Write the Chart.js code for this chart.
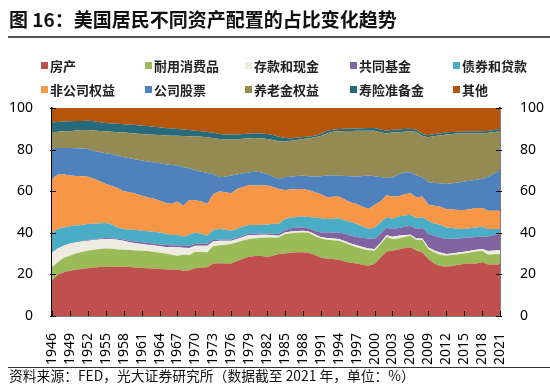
<!DOCTYPE html>
<html>
<head>
<meta charset="utf-8">
<script src="https://cdn.jsdelivr.net/npm/chart.js@4.4.1/dist/chart.umd.min.js"></script>
<style>
  html, body { margin: 0; padding: 0; background: #fff; }
  body { width: 550px; height: 384px; position: relative; overflow: hidden;
         font-family: "Noto Sans CJK SC", "Noto Sans", sans-serif; }
  #title { position: absolute; left: 9px; top: 6px; font-size: 19px; line-height: 26px; font-weight: bold; color: #111; white-space: nowrap; }
  #titleRule { position: absolute; left: 8px; right: 0; top: 36px; height: 2px; background: #555; }
  #legend { position: absolute; left: 41px; top: 53px; display: grid;
            grid-template-columns: 104px 100px 105px 103px 96px; font-size: 13px; font-weight: bold; color: #222; }
  .item { display: flex; align-items: center; height: 24px; white-space: nowrap; }
  .box { width: 7px; height: 7px; margin-right: 2px; flex: none; }
  #wrap { position: absolute; left: 0; top: 0; width: 550px; height: 384px; }
  #srcRule { position: absolute; left: 8px; right: 0; top: 367px; height: 1px; background: #333; }
  #source { position: absolute; left: 9px; top: 368px; font-size: 13.8px; line-height: 15px; color: #111; white-space: nowrap; }
</style>
</head>
<body>
<div id="wrap"><canvas id="chart" width="550" height="384"></canvas></div>
<div id="title">图 16：美国居民不同资产配置的占比变化趋势</div>
<div id="titleRule"></div>
<div id="legend"></div>
<div id="srcRule"></div>
<div id="source">资料来源：FED，光大证券研究所（数据截至 2021 年，单位：%）</div>
<script>
// years on the x axis, label every 3rd one
const years = [1946,1947,1948,1949,1950,1951,1952,1953,1954,1955,
  1956,1957,1958,1959,1960,1961,1962,1963,1964,1965,
  1966,1967,1968,1969,1970,1971,1972,1973,1974,1975,
  1976,1977,1978,1979,1980,1981,1982,1983,1984,1985,
  1986,1987,1988,1989,1990,1991,1992,1993,1994,1995,
  1996,1997,1998,1999,2000,2001,2002,2003,2004,2005,
  2006,2007,2008,2009,2010,2011,2012,2013,2014,2015,
  2016,2017,2018,2019,2020,2021];

const yTicks = [0, 20, 40, 60, 80, 100];

// shares in %
const house = [17,20,21,21.8,22.2,22.6,23,23.3,23.5,23.6,
  23.6,23.7,23.7,23.5,23.3,23.1,23,22.8,22.6,22.5,
  22.2,22.3,21.8,22,23,23.2,23.4,25.3,25.4,25.3,
  25.3,26.5,27.5,28.5,28.8,29,28.2,29,29.8,30.1,
  30.4,30.6,30.6,30.3,29.5,28,27.6,27.4,27,26.2,
  25.6,25.2,24.6,24.2,25,28,31,31.4,32,32.6,
  33,31.5,30.5,27.4,25.2,24,23.7,24,24.6,25,
  25.2,25.3,25.8,24.7,24.7,24.7];
const durables = [6.4,6,7,7.2,7.8,8.2,8.4,8.5,8.7,8.9,
  8.7,8.3,8.2,8.2,8.2,8.3,8.2,8.1,7.8,7.5,
  7.3,6.7,7.8,7.3,7.9,7.6,7.2,8.2,8.6,9,
  9.3,9,8.8,8.5,8.5,8.6,9.6,8.8,8,9.3,
  9.4,9.4,9.6,9.7,9,9.2,9,9,9.2,9,
  8.4,7.8,7.6,7.4,6.4,6.5,7,5.6,5.3,5.4,
  5.6,5,6,4.8,5.3,5.5,5.3,5.3,5.1,5.1,
  5.3,5.7,5.6,4.8,5,5.1];
const deposits = [7.1,6.5,5.8,5.8,5.3,5,4.8,4.7,4.6,4.5,
  4.6,4.6,4.3,3.8,3.5,3.2,3.1,3.1,3.1,3.2,
  3.5,4,3.2,3.4,2.9,3,3.2,2.3,2.2,1.9,
  1.6,1.5,1.7,1.9,1.7,1.5,1.3,1,0.8,0.8,
  0.8,0.9,0.8,0.6,0.8,0.8,0.9,0.8,0.8,0.8,
  0.8,1,1,0.9,0.8,0.7,0.8,1.1,1.3,0.9,
  0.5,0.8,0.8,0.8,1,1,0.8,0.8,0.8,0.8,
  0.9,0.8,0.8,1.7,1.8,1.9];
const funds = [0,0.1,0.1,0.1,0.2,0.2,0.3,0.3,0.4,0.5,
  0.5,0.5,0.6,0.7,0.7,0.8,0.8,0.8,0.9,1,
  0.9,1,1.1,1,0.9,0.9,0.9,0.7,0.5,0.6,
  0.6,0.6,0.6,0.6,0.6,0.6,0.7,0.8,0.8,1.1,
  1.6,1.7,1.6,1.6,1.7,2.2,2.8,3,3.2,3.5,
  3.8,4,4.4,4.8,4.8,4.3,3.6,3.7,3.7,4,
  4.3,4.5,5,6.5,7,7.2,7.2,7,6.8,6.6,
  6.4,6.2,5.9,7,7.4,7.7];
const bonds = [9.5,9.2,8.6,8.3,8,7.8,7.7,7.6,7.4,7.2,
  6.6,5.4,5,5.3,5.6,5.6,5.6,5.7,5.8,5.3,
  5.1,5.1,4.2,5.5,5.5,4.8,3.9,5,5.1,4.7,
  4.2,4.4,4.4,4.3,4.2,4.2,4.1,4.7,5,5.3,
  5,5,5.2,5.4,6.4,6.8,6.3,6.6,6.7,6.5,
  6.6,6.2,5.4,4.5,5.5,5.5,5,4.8,5.5,5.4,
  5.3,5.2,5.2,6.3,6,6.2,5.6,5.2,4.7,4.3,
  4.4,4.6,4.8,3.6,2.9,2.4];
const noncorp = [25.9,26.2,25.5,24.3,23.8,23.4,22.8,21.6,20.2,18.8,
  18.5,19,18.2,18,17.5,16.9,16.3,16,15.2,15,
  14.8,16,14.9,16.6,15.4,15.6,15.2,17,18.2,18,
  18,19,19,19.2,19,18.8,18.8,17.7,16.6,14,
  13.6,13.4,13.3,12.9,12.1,11.5,10.5,10.5,10.5,10,
  9.4,9.6,9.5,9.6,11,10,10.6,10.9,9.7,10.2,
  10.3,10,10,7.7,8.5,8.6,8.8,8.9,9,9.2,
  9.1,9.3,9,8.8,8.8,8.8];
const stocks = [14.7,12.8,12.8,13.3,13.3,13.3,13.3,13.5,14,14.7,
  15.3,15.5,16.3,16.3,16.4,16.8,17.3,17.3,18,18.5,
  18.8,17.2,18.5,15.2,14.3,14.3,15,9.8,6.7,7.5,
  8.5,7,6.6,6,6.8,6.3,5.6,5,4.8,6.2,
  6.2,6.3,6.4,6.7,7.5,8.7,10.4,10.2,10.1,11.3,
  12.6,13.2,14.8,16.1,13.7,11.8,8.3,9.2,10.5,10.5,
  10.1,10.5,9.2,10.8,11,11.3,12.1,12.6,13.2,13.7,
  13.7,13.6,14,16.4,17.9,19.3];
const pension = [7.7,7.8,8,8,8.6,8.9,9.1,9.7,10.2,10.6,
  10.8,11.4,12,12.2,12.6,12.8,13,13.3,13.6,13.8,
  14.1,14.4,15,15.4,16.5,16.8,17.1,17.2,18.4,17.9,
  17.3,17,16.6,16.4,16,16.4,16.8,17.6,18.2,17,
  17.2,17.3,17.6,18.3,18.9,19.3,20.3,21.1,21.3,21.6,
  21.8,22.1,21.8,21.6,21.9,21.5,21.5,21.5,20.3,19.6,
  19.7,21,19.8,21.6,22.5,23,23.7,23.7,23.6,23.1,
  22.8,22.3,21.9,21.1,19.9,18.9];
const lifeIns = [4.7,4.7,4.7,4.8,4.5,4.4,4.5,4.4,4.2,4,
  4,4,3.9,4,4,4,4,3.9,3.7,3.6,
  3.4,3.2,3.2,3,2.7,2.6,2.6,2.6,2.4,2.4,
  2.4,2.3,2.3,2.4,2.3,2.3,2.4,2.4,2.2,1.8,
  1.3,1.1,0.9,0.8,0.8,1,1.2,1,1.1,1.1,
  1.1,1.1,1.2,1.3,1.3,1.4,1.3,1.3,1.4,1.3,
  1.2,1.1,1,1,1,1,1.1,1,0.8,0.8,
  0.9,0.9,1,0.9,1,1.1];
const other = [7,6.7,6.5,6.4,6.3,6.2,6.1,6.4,6.8,7.2,
  7.4,7.6,7.8,8,8.2,8.5,8.7,9,9.3,9.6,
  9.9,10.1,10.3,10.6,10.9,11.2,11.5,11.9,12.5,12.7,
  12.8,12.7,12.5,12.2,12.1,12.3,12.5,13,13.8,14.4,
  14.5,14.3,14,13.7,13.3,12.5,11,10.4,10.1,10,
  9.9,9.8,9.7,9.6,9.6,10.3,10.9,10.5,10.3,10.1,
  10,10.4,12.5,13.1,12.5,12.2,11.7,11.5,11.4,11.4,
  11.3,11.3,11.2,11,10.6,10.1];

const seriesNames = ['房产', '耐用消费品', '存款和现金', '共同基金', '债券和贷款',
  '非公司权益', '公司股票', '养老金权益', '寿险准备金', '其他'];
const seriesData = [house, durables, deposits, funds, bonds, noncorp, stocks, pension, lifeIns, other];
const seriesColors = ['#C0504D', '#9BBB59', '#EEECE1', '#8064A2', '#4BACC6',
  '#F79646', '#4F81BD', '#948A54', '#276A7C', '#B5550A'];

// html legend in a 5 column grid, like the original
const legendEl = document.getElementById('legend');
seriesNames.forEach((name, i) => {
  const item = document.createElement('div');
  item.className = 'item';
  item.innerHTML = '<span class="box" style="background:' + seriesColors[i] + '"></span>' + name;
  legendEl.appendChild(item);
});

// small tick marks pointing into the plot
const inwardTicks = {
  id: 'inwardTicks',
  afterDraw(chart) {
    const { ctx, chartArea: a, scales } = chart;
    ctx.save();
    ctx.strokeStyle = '#000';
    ctx.lineWidth = 1;
    ctx.beginPath();
    yTicks.forEach(v => {
      const y = Math.round(scales.y.getPixelForValue(v)) + 0.5;
      ctx.moveTo(a.left - 2, y); ctx.lineTo(a.left + 4, y);
      ctx.moveTo(a.right - 4, y); ctx.lineTo(a.right + 2, y);
    });
    years.forEach((yr, i) => {
      if (i % 3 !== 0) return;
      const x = Math.round(scales.x.getPixelForValue(i)) + 0.5;
      ctx.moveTo(x, a.bottom); ctx.lineTo(x, a.bottom - 5);
    });
    ctx.stroke();
    ctx.restore();
  }
};

Chart.defaults.font.family = '"Noto Sans", "Noto Sans CJK SC", sans-serif';
Chart.defaults.color = '#000';

const tickFont = { size: 14 };

new Chart(document.getElementById('chart'), {
  type: 'line',
  data: {
    labels: years,
    datasets: seriesData.map((d, i) => ({
      label: seriesNames[i],
      data: d,
      backgroundColor: seriesColors[i],
      borderColor: seriesColors[i],
      borderWidth: 0,
      pointRadius: 0,
      fill: i === 0 ? 'origin' : '-1'
    }))
  },
  options: {
    responsive: false,
    animation: false,
    layout: { padding: { top: 108, bottom: 10, left: 0, right: 0 } },
    plugins: {
      legend: { display: false },
      tooltip: { enabled: false }
    },
    scales: {
      x: {
        z: 1,
        offset: false,
        grid: { display: false },
        border: { display: true, color: '#000', width: 1.5 },
        ticks: {
          autoSkip: false,
          maxRotation: 90,
          minRotation: 90,
          padding: 9,
          font: tickFont,
          callback: (v, i) => (i % 3 === 0 ? String(years[i]) : null)
        },
        afterFit: s => { s.height = 58; }
      },
      y: {
        z: 1,
        stacked: true,
        min: 0,
        max: 100,
        grid: { display: false },
        border: { display: true, color: '#000', width: 1.5 },
        ticks: { stepSize: 20, padding: 11, font: tickFont },
        afterFit: s => { s.width = 52; }
      },
      y2: {
        z: 1,
        position: 'right',
        min: 0,
        max: 100,
        grid: { display: false },
        border: { display: true, color: '#000', width: 1.5 },
        ticks: { stepSize: 20, padding: 12, font: tickFont },
        afterFit: s => { s.width = 50; }
      }
    }
  },
  plugins: [inwardTicks]
});
</script>
</body>
</html>
